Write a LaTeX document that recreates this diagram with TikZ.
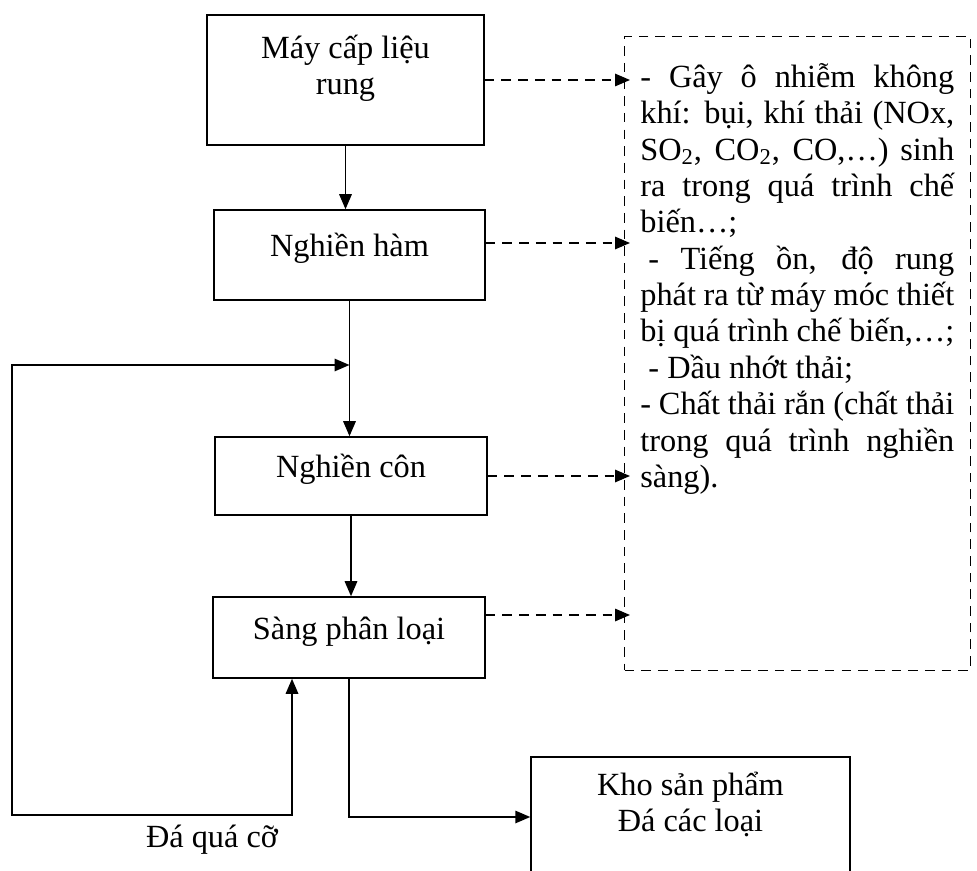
\documentclass[tikz,border=0pt]{standalone}
\usepackage{fontspec}
\setmainfont{Liberation Serif}
\usetikzlibrary{arrows.meta}

\begin{document}
\begin{tikzpicture}[
        x=0.02cm, y=-0.02cm,
        font=\fontsize{18.4}{20.7}\selectfont,
        stage/.style = {draw, line width=0.9pt, inner sep=0pt, align=center},
        lifted/.style = {text height=0.66em, text depth=0.16cm},
        flow/.style = {line width=0.9pt, -{Triangle[length=0.3cm, width=0.25cm]}},
        emission/.style = {flow, dash pattern=on 5.5pt off 4pt, shorten >=-0.12cm}
    ]
    \useasboundingbox (0,0) rectangle (977,871);
    % process line
    \node[stage, text depth=0.6cm, minimum width=5.54cm, minimum height=2.6cm] (feeder) at (345.5,80) {Máy cấp liệu\\rung};
    \node[stage, lifted, minimum width=5.42cm, minimum height=1.8cm] (jaw) at (349.5,255) {Nghiền hàm};
    \node[stage, lifted, minimum width=5.44cm, minimum height=1.56cm] (cone) at (351,476) {Nghiền côn};
    \node[stage, lifted, minimum width=5.44cm, minimum height=1.62cm] (screen) at (349,637.5) {Sàng phân loại};
    \node[stage, text depth=0.6cm, minimum width=6.38cm, minimum height=2.4cm] (store) at (690.5,817) {Kho sản phẩm\\Đá các loại};
    % impacts box
    \node[draw, dash pattern=on 5.5pt off 4pt, line width=0.6pt, minimum width=6.92cm, minimum height=12.68cm, anchor=north west] (impact) at (624,36) {};
    \node[anchor=north west, inner sep=0pt, text width=6.28cm, align=justify] (impacttext) at (640,63) {%
        \parindent=0pt \hyphenpenalty=10000 \exhyphenpenalty=10000 \tolerance=10000
        - Gây ô nhiễm không\linebreak khí: bụi, khí thải (NOx,\linebreak SO\textsubscript{2}, CO\textsubscript{2}, CO,…) sinh\linebreak ra trong quá trình chế\linebreak biến…;\par
        \hspace*{0.25em}- Tiếng ồn, độ rung\linebreak phát ra từ máy móc thiết\linebreak bị quá trình chế biến,…;\par
        \hspace*{0.25em}- Dầu nhớt thải;\par
        - Chất thải rắn (chất thải\linebreak trong quá trình nghiền\linebreak sàng).};
    % main flow
    \draw[flow] (feeder.south) -- (feeder.south |- jaw.north);
    \draw[flow] (jaw.south) -- (jaw.south |- cone.north);
    \draw[flow] (cone.south) -- (cone.south |- screen.north);
    \coordinate (oversize) at (12,815);
    \coordinate (return) at (jaw.south |- 0,365);
    \draw[{Triangle[length=0.3cm, width=0.25cm]}-{Triangle[length=0.3cm, width=0.25cm]}, line width=0.9pt]
        ([xshift=-1.14cm]screen.south) |- (oversize) |- (return);
    \node (oversizelabel) at (212,840) {Đá quá cỡ};
    \draw[flow] (screen.south) |- (store.west);
    % emissions
    \draw[emission] (feeder.east) -- (feeder.east -| impact.west);
    \draw[emission] ([yshift=0.24cm]jaw.east) -- ([yshift=0.24cm]jaw.east -| impact.west);
    \draw[emission] (cone.east) -- (cone.east -| impact.west);
    \draw[emission] ([yshift=0.45cm]screen.east) -- ([yshift=0.45cm]screen.east -| impact.west);
\end{tikzpicture}
\end{document}
